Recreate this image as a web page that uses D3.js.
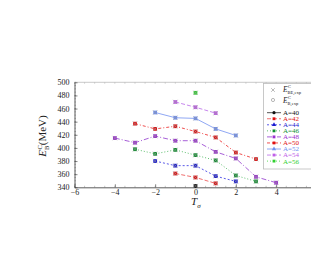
<!DOCTYPE html>
<html>
<head>
<meta charset="utf-8">
<script src="https://cdn.jsdelivr.net/npm/d3@7"></script>
<style>
  body { margin: 0; background: #fff; }
  svg { display: block; font-family: 'Liberation Serif', 'DejaVu Serif', serif; }
</style>
</head>
<body>
<script>
// isotope series: T_sigma values and E_B^C (MeV)
var A40_T = [0],                 A40_E = [342];
var A42_T = [-1, 0, 1],          A42_E = [361, 355, 346];
var A44_T = [-2, -1, 0, 1, 2],   A44_E = [380, 373, 373, 357, 349];
var A46_T = [-3, -2, -1, 0, 1, 2, 3], A46_E = [398, 391, 397, 389, 381, 358, 349];
var A48_T = [-4, -3, -2, -1, 0, 1, 2, 3, 4], A48_E = [415, 408, 418, 411, 411, 394, 384, 356, 347];
var A50_T = [-3, -2, -1, 0, 1, 2, 3], A50_E = [437, 429, 433, 425, 416, 393, 383];
var A52_T = [-2, -1, 0, 1, 2],   A52_E = [454, 446, 445, 429, 419];
var A54_T = [-1, 0, 1],          A54_E = [470, 462, 453];
var A56_T = [0],                 A56_E = [484];

var xTicks = [-6, -4, -2, 0, 2, 4];
var yTicks = [340, 360, 380, 400, 420, 440, 460, 480, 500];

var series = [
  {name: 'A=40', t: A40_T, e: A40_E, color: '#111111', line: '#555555', dash: null, sym: d3.symbolCircle},
  {name: 'A=42', t: A42_T, e: A42_E, color: '#e01010', line: '#f07070', dash: '4,2', sym: d3.symbolSquare},
  {name: 'A=44', t: A44_T, e: A44_E, color: '#1a1ad0', line: '#5a5ae8', dash: '2,2', sym: d3.symbolTriangle},
  {name: 'A=46', t: A46_T, e: A46_E, color: '#109030', line: '#60c070', dash: '1,2', sym: d3.symbolSquare},
  {name: 'A=48', t: A48_T, e: A48_E, color: '#9a30d0', line: '#a860d8', dash: '5,2,1,2', sym: d3.symbolSquare},
  {name: 'A=50', t: A50_T, e: A50_E, color: '#e01010', line: '#f05050', dash: '3,2,1,2', sym: d3.symbolSquare},
  {name: 'A=52', t: A52_T, e: A52_E, color: '#7090f0', line: '#90a8f4', dash: null, sym: d3.symbolTriangle},
  {name: 'A=54', t: A54_T, e: A54_E, color: '#c060e8', line: '#c888ee', dash: '4,2', sym: d3.symbolSquare},
  {name: 'A=56', t: A56_T, e: A56_E, color: '#30d030', line: '#60e060', dash: '1,2', sym: d3.symbolSquare}
];

var svg = d3.select('body').append('svg')
    .attr('width', 311)
    .attr('height', 262);

var x = d3.scaleLinear().domain([-6, 6]).range([74.5, 316.5]);
var y = d3.scaleLinear().domain([340, 500]).range([187.3, 82.3]);

// small x-shaped cross drawn with two strokes
function drawX(g, cx, cy, r, color) {
    g.append('path')
        .attr('d', 'M' + (cx - r) + ',' + (cy - r) + 'L' + (cx + r) + ',' + (cy + r) +
                   'M' + (cx - r) + ',' + (cy + r) + 'L' + (cx + r) + ',' + (cy - r))
        .attr('stroke', color)
        .attr('stroke-width', 0.6)
        .attr('fill', 'none');
}

// frame top edge
svg.append('line')
    .attr('x1', x(-6)).attr('x2', x(6))
    .attr('y1', y(500)).attr('y2', y(500))
    .attr('stroke', '#bbb').attr('stroke-width', 0.8);

// minor ticks
var xMinor = d3.range(-6, 6.01, 0.5);
var yMinor = d3.range(340, 500.1, 5);
svg.append('g').selectAll('line').data(xMinor).enter().append('line')
    .attr('x1', function (d) { return x(d); })
    .attr('x2', function (d) { return x(d); })
    .attr('y1', y(340)).attr('y2', y(340) - 1.5)
    .attr('stroke', '#888').attr('stroke-width', 0.5);
svg.append('g').selectAll('line').data(xMinor).enter().append('line')
    .attr('x1', function (d) { return x(d); })
    .attr('x2', function (d) { return x(d); })
    .attr('y1', y(500)).attr('y2', y(500) + 1.5)
    .attr('stroke', '#aaa').attr('stroke-width', 0.5);
svg.append('g').selectAll('line').data(yMinor).enter().append('line')
    .attr('x1', x(-6)).attr('x2', x(-6) + 1.5)
    .attr('y1', function (d) { return y(d); })
    .attr('y2', function (d) { return y(d); })
    .attr('stroke', '#888').attr('stroke-width', 0.5);

// axes
var xaxis = d3.axisBottom(x).tickValues(xTicks).tickSizeInner(-3).tickSizeOuter(0).tickPadding(2);
var yaxis = d3.axisLeft(y).tickValues(yTicks).tickSizeInner(-3).tickSizeOuter(0).tickPadding(5);

var gx = svg.append('g')
    .attr('transform', 'translate(0,' + y(340) + ')')
    .call(xaxis);
var gy = svg.append('g')
    .attr('transform', 'translate(' + x(-6) + ',0)')
    .call(yaxis);
[gx, gy].forEach(function (g) {
    g.select('.domain').attr('stroke', '#333').attr('stroke-width', 0.8);
    g.selectAll('.tick line').attr('stroke', '#333').attr('stroke-width', 0.6);
    g.selectAll('.tick text')
        .attr('font-family', "'Liberation Serif', serif")
        .attr('font-size', '8px')
        .attr('fill', '#222');
});

// lines
var line = d3.line()
    .x(function (d) { return x(d[0]); })
    .y(function (d) { return y(d[1]); });

series.forEach(function (s) {
    var pts = s.t.map(function (t, i) { return [t, s.e[i]]; });
    if (pts.length > 1) {
        svg.append('path')
            .datum(pts)
            .attr('d', line)
            .attr('fill', 'none')
            .attr('stroke', s.line)
            .attr('stroke-width', 1)
            .attr('stroke-dasharray', s.dash);
    }
});

// markers: coloured square plus grey cross (E_BE,exp)
series.forEach(function (s) {
    var pts = s.t.map(function (t, i) { return [t, s.e[i]]; });
    var g = svg.append('g');
    g.selectAll('path.m').data(pts).enter().append('path')
        .attr('class', 'm')
        .attr('transform', function (d) { return 'translate(' + x(d[0]) + ',' + y(d[1]) + ')'; })
        .attr('d', d3.symbol().type(d3.symbolSquare).size(14))
        .attr('fill', s.color);
    pts.forEach(function (d) { drawX(g, x(d[0]), y(d[1]), 2.2, '#999'); });
});

// axis labels
var ylab = svg.append('text')
    .attr('transform', 'translate(46,136) rotate(-90)')
    .attr('text-anchor', 'middle')
    .attr('font-size', '11px')
    .attr('fill', '#222');
ylab.append('tspan').attr('font-style', 'italic').text('E');
ylab.append('tspan').attr('font-size', '6.5px').attr('dy', 2.5).text('B');
ylab.append('tspan').attr('font-size', '6.5px').attr('dx', -4).attr('dy', -7).text('C');
ylab.append('tspan').attr('dy', 4.5).text('(MeV)');

var xlab = svg.append('text')
    .attr('x', 191)
    .attr('y', 205)
    .attr('font-size', '11px')
    .attr('fill', '#222');
xlab.append('tspan').attr('font-style', 'italic').text('T');
xlab.append('tspan').attr('font-style', 'italic').attr('font-size', '7px').attr('dy', 3).text('σ');

// legend
var lx = 263.5, ly = 83.5;
svg.append('rect')
    .attr('x', lx).attr('y', ly)
    .attr('width', 60).attr('height', 85.5)
    .attr('fill', '#fff')
    .attr('stroke', '#bbb')
    .attr('stroke-width', 0.8);

drawX(svg, 273, 90, 1.8, '#888');
var t1 = svg.append('text').attr('x', 283).attr('y', 92).attr('font-size', '7.5px').attr('fill', '#222');
t1.append('tspan').attr('font-style', 'italic').text('E');
t1.append('tspan').attr('font-size', '4.5px').attr('dy', 2).text('BE,exp');
t1.append('tspan').attr('font-size', '4.5px').attr('x', 288).attr('dy', -6).text('C');

svg.append('circle')
    .attr('cx', 273).attr('cy', 100).attr('r', 1.6)
    .attr('fill', 'none').attr('stroke', '#888').attr('stroke-width', 0.6);
var t2 = svg.append('text').attr('x', 283).attr('y', 102.5).attr('font-size', '7.5px').attr('fill', '#222');
t2.append('tspan').attr('font-style', 'italic').text('E');
t2.append('tspan').attr('font-size', '4.5px').attr('dy', 2).text('B,exp');
t2.append('tspan').attr('font-size', '4.5px').attr('x', 288).attr('dy', -6).text('C');

var leg = svg.append('g').selectAll('g').data(series).enter().append('g')
    .attr('transform', function (d, i) { return 'translate(0,' + (112.7 + i * 6.05) + ')'; });
leg.append('line')
    .attr('x1', 267).attr('x2', 281).attr('y1', 0).attr('y2', 0)
    .attr('stroke', function (d) { return d.line; })
    .attr('stroke-width', 1)
    .attr('stroke-dasharray', function (d) { return d.dash; });
leg.append('path')
    .attr('transform', 'translate(274,0)')
    .attr('d', function (d) { return d3.symbol().type(d.sym).size(8)(); })
    .attr('fill', function (d) { return d.color; });
leg.append('text')
    .attr('x', 283).attr('y', 2.4)
    .attr('font-size', '7px')
    .attr('fill', function (d) { return d.color; })
    .text(function (d) { return d.name; });
</script>
</body>
</html>
